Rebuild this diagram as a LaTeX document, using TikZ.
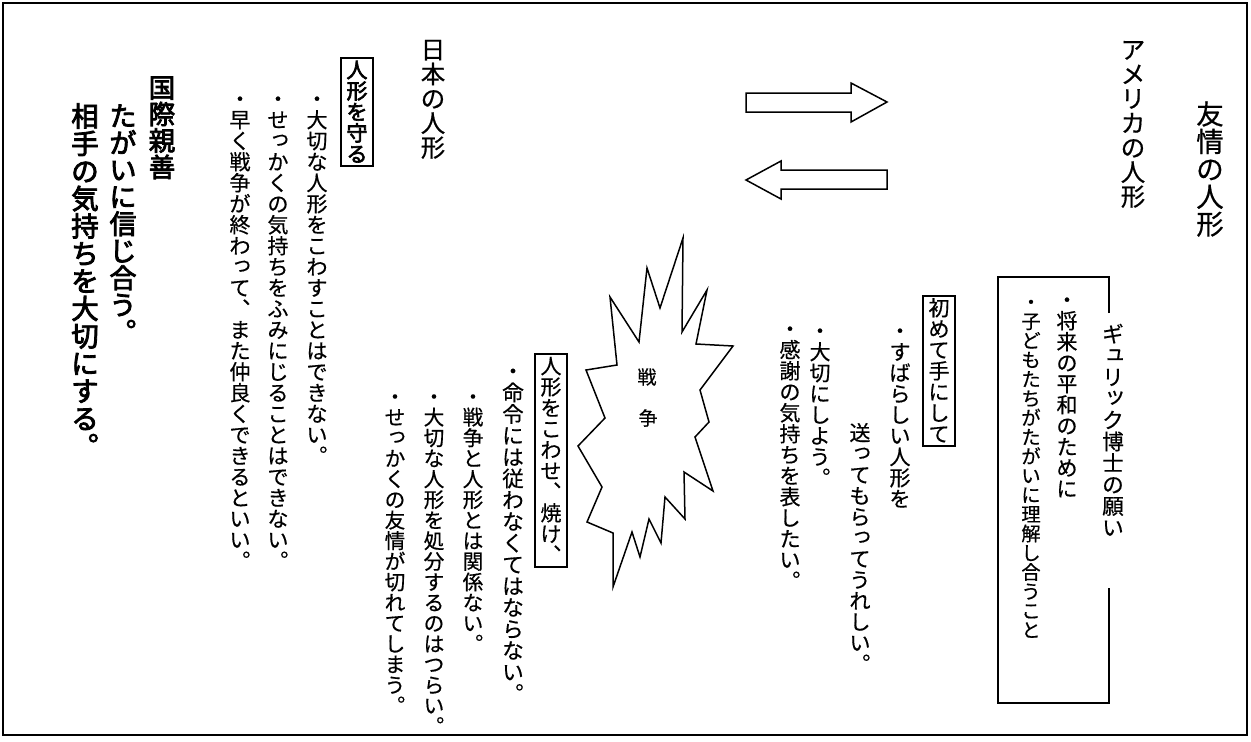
\documentclass[tikz,border=0pt]{standalone}
\usepackage{fontspec}
\newfontfamily\jp[FakeBold=0.5]{Noto Sans CJK JP}
\newfontfamily\jpb[FakeBold=3]{Noto Sans CJK JP}
% vertical stacking of characters, one em per cell
\def\vcell#1{\hbox to 1em{\vrule width0pt height0.88em depth0.12em\hss#1\hss}}
\def\vloop#1{\ifx#1\relax\else\vcell{#1}\expandafter\vloop\fi}
\newcommand\vtext[1]{\vbox{\offinterlineskip\vloop#1\relax}}
\def\sk#1{\kern0.2em\raisebox{0.16em}[0pt][0pt]{#1}}
\tikzset{
  vt/.style={anchor=north, inner sep=0pt, font=\jp\fontsize{#1}{#1}\selectfont},
  vt/.default=21,
  vb/.style={anchor=north, inner sep=0pt, font=\jpb\fontsize{#1}{#1}\selectfont},
  vb/.default=27,
  boxed/.style={draw, line width=1.6pt, inner xsep=5.5pt, inner ysep=1.5pt},
  shapeline/.style={line width=1.5pt, line join=miter},
}
\begin{document}
\begin{tikzpicture}[x=1pt,y=-1pt]
\useasboundingbox (0,0) rectangle (1251,742);
% outer frame
\draw[line width=1.3pt] (3,3) rectangle (1247,735);

% headers
\node[vt=27.5] (t1) at (1210,100) {\vtext{友情の人形}};
\node[vt=24.5] (t2) at (1133,37) {\vtext{アメリカの人形}};
\node[vt=24.5] (t3) at (433,37) {\vtext{日本の人形}};

% arrows
\draw[shapeline] (746,93) -- (851,93) -- (851,83) -- (887,102) -- (851,122) -- (851,112) -- (746,112) -- cycle;
\draw[shapeline] (887,170) -- (781,170) -- (781,161) -- (746,180) -- (781,199) -- (781,189) -- (887,189) -- cycle;

% Gulick box
\draw[line width=1.5pt] (1109,313) -- (1109,277) -- (998,277) -- (998,703) -- (1109,703) -- (1109,588);
\node[vt=21.5] (g0) at (1113,323) {\vtext{ギ{\sk ュ}リ{\sk ッ}ク博士の願い}};
\node[vt=21] (g1) at (1067,289) {\vtext{・将来の平和のために}};
\node[vt=19.3] (g2) at (1031,292) {\vtext{・子どもたちがたがいに理解し合うこと}};

% right middle
\node[vt=21, boxed] (r0) at (939,295) {\vtext{初めて手にして}};
\node[vt=21] (r1) at (900,320) {\vtext{・すばらしい人形を}};
\node[vt=21] (r2) at (860,422) {\vtext{送{\sk っ}てもら{\sk っ}てうれしい︒}};
\node[vt=21] (r3) at (820,320) {\vtext{・大切にしよう︒}};
\node[vt=21] (r4) at (790,318) {\vtext{・感謝の気持ちを表したい︒}};

% explosion
\draw[shapeline] (683,238) -- (682,332) -- (707,290) -- (696,344) -- (733,346) -- (700,390)
  -- (709,422) -- (695,437) -- (713,491) -- (684,472) -- (685,519) -- (665,497)
  -- (661,543) -- (649,519) -- (640,557) -- (632,532) -- (613,587) -- (613,533)
  -- (587,522) -- (602,487) -- (578,446) -- (605,418) -- (586,370) -- (617,365)
  -- (610,297) -- (639,342) -- (647,268) -- (660,308) -- cycle;
\node[font=\jp\fontsize{19}{19}\selectfont] (w1) at (647,377) {戦};
\node[font=\jp\fontsize{19}{19}\selectfont] (w2) at (648,418) {争};

% left middle
\node[vt=21, boxed] (m0) at (551,353) {\vtext{人形をこわせ︑焼け︑}};
\node[vt=21.5] (m1) at (513,360) {\vtext{・命令には従わなくてはならない︒}};
\node[vt=20.6] (m2) at (473,386) {\vtext{・戦争と人形とは関係ない︒}};
\node[vt=20.6] (m3) at (434,386) {\vtext{・大切な人形を処分するのはつらい︒}};
\node[vt=20.6] (m4) at (395,386) {\vtext{・せ{\sk っ}かくの友情が切れてしまう︒}};

% left
\node[vb=21, boxed] (l0) at (357,57) {\vtext{人形を守る}};
\node[vt=21] (l1) at (317,88) {\vtext{・大切な人形をこわすことはできない︒}};
\node[vt=21] (l2) at (278,88) {\vtext{・せ{\sk っ}かくの気持ちをふみにじることはできない︒}};
\node[vt=21] (l3) at (240,88) {\vtext{・早く戦争が終わ{\sk っ}て︑また仲良くできるといい︒}};

% bold
\node[vb=26.5] (b1) at (162,74) {\vtext{国際親善}};
\node[vb=27] (b2) at (123,102) {\vtext{たがいに信じ合う︒}};
\node[vb=27.5] (b3) at (85,102) {\vtext{相手の気持ちを大切にする︒}};
\end{tikzpicture}
\end{document}
